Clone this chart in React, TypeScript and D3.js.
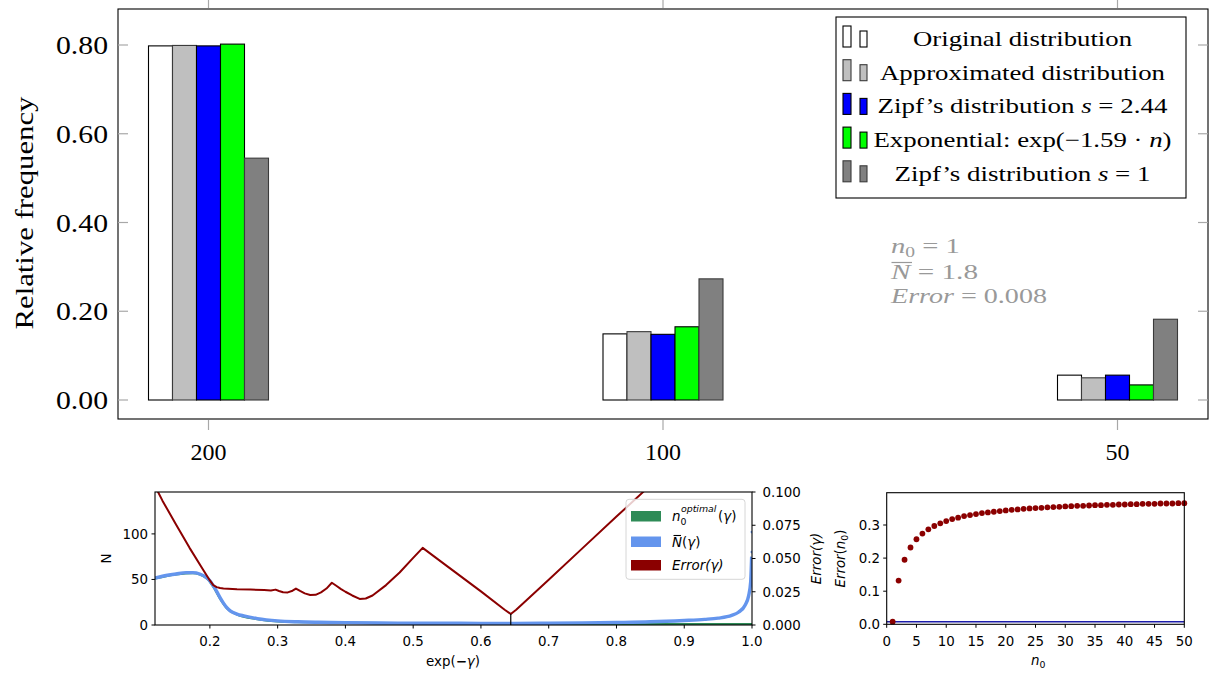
import React from 'react';
import * as d3 from 'd3';

// ---------- main bar chart data ----------
const categories = ['200', '100', '50'];
const seriesNames = ['Original distribution', 'Approximated distribution', 'Zipf2', 'Exp', 'Zipf1'];
const originalValues = [0.798, 0.149, 0.056];
const approximatedValues = [0.799, 0.154, 0.05];
const zipf244Values = [0.798, 0.148, 0.056];
const exponentialValues = [0.802, 0.165, 0.034];
const zipf1Values = [0.545, 0.273, 0.182];
const seriesColors = ['#ffffff', '#bfbfbf', '#0000ff', '#00ff00', '#808080'];
const mainYTicks = [0, 0.2, 0.4, 0.6, 0.8];

// ---------- bottom-left (gamma) data ----------
const errGammaX = [0.119, 0.13, 0.15, 0.17, 0.19, 0.2, 0.205, 0.21, 0.215, 0.22, 0.24, 0.26, 0.28, 0.29, 0.297, 0.302, 0.308, 0.315, 0.322, 0.327, 0.333, 0.34, 0.348, 0.356, 0.364, 0.372, 0.38, 0.386, 0.393, 0.4, 0.41, 0.421, 0.43, 0.44, 0.46, 0.48, 0.5, 0.514, 0.55, 0.6, 0.635, 0.644, 0.652, 0.7, 0.75, 0.8, 0.84, 0.86];
const errGammaY = [0.1045, 0.0935, 0.0755, 0.058, 0.0415, 0.0335, 0.03, 0.0285, 0.0278, 0.0274, 0.0268, 0.0266, 0.0263, 0.026, 0.0266, 0.0256, 0.0246, 0.0245, 0.0258, 0.0274, 0.0256, 0.0238, 0.0225, 0.0227, 0.0245, 0.0274, 0.0318, 0.0297, 0.0272, 0.025, 0.0222, 0.0196, 0.0199, 0.0222, 0.03, 0.0395, 0.0505, 0.058, 0.0443, 0.0253, 0.0115, 0.0083, 0.0115, 0.034, 0.0578, 0.0815, 0.1003, 0.11];
const nBarX = [0.119, 0.13, 0.15, 0.165, 0.175, 0.185, 0.195, 0.2, 0.205, 0.21, 0.215, 0.22, 0.225, 0.23, 0.24, 0.25, 0.27, 0.3, 0.33, 0.36, 0.4, 0.45, 0.5, 0.55, 0.6, 0.65, 0.7, 0.75, 0.8, 0.85, 0.9, 0.93, 0.95, 0.97, 0.98, 0.99, 0.995, 0.998, 0.9995];
const nBarY = [51.5, 53.5, 56, 57.5, 57.5, 56, 52, 48.5, 43, 37, 30, 24, 19, 15.5, 12, 10, 7, 4.5, 3.5, 3, 2.6, 2.2, 2, 1.9, 1.8, 1.8, 2, 2.3, 2.8, 3.5, 5, 6.2, 7.5, 10.5, 14, 22, 32, 47, 75];
const nBarTailX = [0.9997, 0.9998, 0.9999];
const nBarTailY = [69, 80, 102];
const nOptX = [0.119, 0.15, 0.175, 0.195, 0.205, 0.215, 0.225, 0.24, 0.27, 0.3, 0.35, 0.45, 0.6, 0.75, 0.88, 0.95, 1.0];
const nOptY = [51, 55.5, 57, 51.5, 42, 29, 18.5, 11.5, 6.5, 4, 3, 2, 1.5, 1.2, 1, 1, 1];
const gammaOptimal = 0.644;
const errorOptimal = 0.0083;
const gammaXTicks = [0.2, 0.3, 0.4, 0.5, 0.6, 0.7, 0.8, 0.9, 1.0];
const nTicks = [0, 50, 100];
const errTicks = [0, 0.025, 0.05, 0.075, 0.1];

// ---------- bottom-right (n0) data ----------
const errN0 = [0.008, 0.132, 0.195, 0.232, 0.257, 0.274, 0.287, 0.297, 0.305, 0.312, 0.318, 0.322, 0.327, 0.33, 0.333, 0.336, 0.338, 0.34, 0.342, 0.344, 0.346, 0.347, 0.349, 0.35, 0.351, 0.352, 0.353, 0.354, 0.355, 0.356, 0.357, 0.358, 0.358, 0.359, 0.36, 0.36, 0.361, 0.361, 0.362, 0.362, 0.363, 0.363, 0.364, 0.364, 0.364, 0.365, 0.365, 0.365, 0.366, 0.366];
const n0XTicks = [0, 5, 10, 15, 20, 25, 30, 35, 40, 45, 50];
const n0YTicks = [0, 0.1, 0.2, 0.3];
const bestError = 0.008;

const SERIF = "'Liberation Serif', 'Times New Roman', serif";
const SANS = "'DejaVu Sans', sans-serif";

export default function App() {
  const series = [originalValues, approximatedValues, zipf244Values, exponentialValues, zipf1Values];
  // main chart
  const L = 118, R = 1208, T = 9, B = 419;
  const x = d3.scalePoint<string>().domain(categories).range([208.5, 1117.5]);
  const y = d3.scaleLinear().domain([0, 0.8]).range([400, 45]);
  const barW = 24;
  const tickGray = '#a8a8a8';

  // legend
  const legX = 836, legY = 17, legW = 350, legH = 181;
  const rowBottoms = [47, 80.7, 114.4, 148.1, 181.8];

  // bottom-left
  const xB = d3.scaleLinear().domain([0.119, 1.0]).range([155, 752]);
  const yN = d3.scaleLinear().domain([0, 146]).range([625, 492]);
  const yE = d3.scaleLinear().domain([0, 0.1]).range([625, 492]);
  const errLine = d3.line<number>().x((_, i) => xB(errGammaX[i])).y((d) => yE(d));
  const nBarLine = d3.line<number>().x((_, i) => xB(nBarX[i])).y((d) => yN(d)).curve(d3.curveMonotoneX);
  const nOptLine = d3.line<number>().x((_, i) => xB(nOptX[i])).y((d) => yN(d)).curve(d3.curveMonotoneX);

  // bottom-right
  const xR = d3.scaleLinear().domain([0, 50]).range([886.7, 1184.3]);
  const yR = d3.scaleLinear().domain([0, 0.3976]).range([624.3, 492.7]);

  const seriesLegend = (i: number, cy: number) => {
    const common = { x: 1022.5, y: cy - 1, textAnchor: 'middle' as const, fontFamily: SERIF, fontSize: 21, lengthAdjust: 'spacingAndGlyphs' as const };
    if (i === 0) return <text {...common} textLength={219}>Original distribution</text>;
    if (i === 1) return <text {...common} textLength={285}>Approximated distribution</text>;
    if (i === 2) return <text {...common} textLength={290}>Zipf’s distribution <tspan fontStyle="italic">s</tspan> = 2.44</text>;
    if (i === 3) return <text {...common} textLength={298}>Exponential: exp(−1.59 · <tspan fontStyle="italic">n</tspan>)</text>;
    return <text {...common} textLength={256}>Zipf’s distribution <tspan fontStyle="italic">s</tspan> = 1</text>;
  };

  return (
    <svg width={1212} height={676} style={{ position: 'absolute', left: 0, top: 0, background: '#fff' }}>
      <defs>
        <clipPath id="clipB"><rect x={155} y={492} width={597} height={133} /></clipPath>
      </defs>
      <rect x={0} y={0} width={1212} height={676} fill="#fff" />

      {/* ===== main chart ===== */}
      {series.map((vals, si) =>
        categories.map((c, ci) => (
          <rect key={`b${si}-${ci}`} x={(x(c) as number) + (si - 2.5) * barW} y={y(vals[ci])} width={barW} height={400 - y(vals[ci])}
            fill={seriesColors[si]} stroke={si === 1 || si === 4 ? '#3a3a3a' : '#000'} strokeWidth={1.1} />
        ))
      )}
      <rect x={L} y={T} width={R - L} height={B - T} fill="none" stroke="#000" strokeWidth={1.1} />
      {mainYTicks.map((t) => (
        <g key={`yt${t}`}>
          <line x1={L} x2={L + 10} y1={y(t)} y2={y(t)} stroke={tickGray} strokeWidth={1.2} />
          <line x1={R - 10} x2={R} y1={y(t)} y2={y(t)} stroke={tickGray} strokeWidth={1.2} />
          <text x={108} y={y(t) + 9} textAnchor="end" fontFamily={SERIF} fontSize={26} textLength={52} lengthAdjust="spacingAndGlyphs">{t.toFixed(2)}</text>
        </g>
      ))}
      {categories.map((c) => (
        <g key={`xt${c}`}>
          <line x1={x(c)} x2={x(c)} y1={B + 1} y2={B + 11} stroke={tickGray} strokeWidth={1.2} />
          <line x1={x(c)} x2={x(c)} y1={0} y2={T - 1} stroke={tickGray} strokeWidth={1.2} />
          <text x={x(c)} y={460} textAnchor="middle" fontFamily={SERIF} fontSize={24}>{c}</text>
        </g>
      ))}
      <text transform="translate(33,213) rotate(-90)" textAnchor="middle" fontFamily={SERIF} fontSize={26} textLength={233} lengthAdjust="spacingAndGlyphs">Relative frequency</text>

      {/* legend */}
      <rect x={legX} y={legY} width={legW} height={legH} fill="#fff" stroke="#000" strokeWidth={1.1} />
      {seriesNames.map((_, i) => (
        <g key={`lg${i}`}>
          <rect x={843} y={rowBottoms[i] - 21} width={8} height={21} fill={seriesColors[i]} stroke={i === 1 || i === 4 ? '#3a3a3a' : '#000'} strokeWidth={1.1} />
          <rect x={860} y={rowBottoms[i] - 16} width={7} height={16} fill={seriesColors[i]} stroke={i === 1 || i === 4 ? '#3a3a3a' : '#000'} strokeWidth={1.1} />
          {seriesLegend(i, rowBottoms[i])}
        </g>
      ))}

      {/* annotation */}
      <g fill="#999" fontFamily={SERIF} fontSize={22}>
        <text x={891} y={253} textLength={69} lengthAdjust="spacingAndGlyphs"><tspan fontStyle="italic">n</tspan><tspan fontSize={15} dy={4}>0</tspan><tspan dy={-4}> = 1</tspan></text>
        <line x1={891.5} x2={912} y1={262.5} y2={262.5} stroke="#999" strokeWidth={1.2} />
        <text x={891} y={279} textLength={87} lengthAdjust="spacingAndGlyphs"><tspan fontStyle="italic">N</tspan> = 1.8</text>
        <text x={891} y={303} textLength={156} lengthAdjust="spacingAndGlyphs"><tspan fontStyle="italic">Error</tspan> = 0.008</text>
      </g>

      {/* ===== bottom-left chart ===== */}
      <g clipPath="url(#clipB)">
        <path d={nOptLine(nOptY) || ''} fill="none" stroke="#2e8b57" strokeWidth={2.2} />
        <path d={nBarLine(nBarY) || ''} fill="none" stroke="#6495ed" strokeWidth={3.4} strokeLinejoin="round" />
        {nBarTailY.map((v, i) => (
          <circle key={`tail${i}`} cx={xB(nBarTailX[i])} cy={yN(v)} r={1.4} fill="#6495ed" />
        ))}
        <path d={errLine(errGammaY) || ''} fill="none" stroke="#8b0000" strokeWidth={2} strokeLinejoin="round" />
        <line x1={xB(gammaOptimal)} x2={xB(gammaOptimal)} y1={yE(0)} y2={yE(errorOptimal)} stroke="#000" strokeWidth={1.2} />
      </g>
      <rect x={155} y={492} width={597} height={133} fill="none" stroke="#000" strokeWidth={1.1} />
      <g fontFamily={SANS} fontSize={13.4} fill="#000">
        {gammaXTicks.map((t) => (
          <g key={`gx${t}`}>
            <line x1={xB(t)} x2={xB(t)} y1={625} y2={628.5} stroke="#000" />
            <text x={xB(t)} y={645.5} textAnchor="middle">{t.toFixed(1)}</text>
          </g>
        ))}
        {nTicks.map((t) => (
          <g key={`nt${t}`}>
            <line x1={151.5} x2={155} y1={yN(t)} y2={yN(t)} stroke="#000" />
            <text x={148} y={yN(t) + 4.8} textAnchor="end">{t}</text>
          </g>
        ))}
        {errTicks.map((t) => (
          <g key={`et${t}`}>
            <line x1={752} x2={755.5} y1={yE(t)} y2={yE(t)} stroke="#000" />
            <text x={762.5} y={yE(t) + 4.8}>{t.toFixed(3)}</text>
          </g>
        ))}
        <text x={453} y={666} textAnchor="middle">exp(<tspan fontWeight="bold">−</tspan><tspan fontStyle="italic">γ</tspan>)</text>
        <text transform="translate(111,558.5) rotate(-90)" textAnchor="middle">N</text>
        <text transform="translate(821,558.5) rotate(-90)" textAnchor="middle" fontStyle="italic">Error(γ)</text>
      </g>
      {/* bottom-left legend */}
      <rect x={626} y={499.3} width={119} height={80} rx={3} fill="#fff" fillOpacity={0.8} stroke="#d6d6d6" strokeWidth={1} />
      <rect x={631} y={511} width={30} height={10.5} fill="#2e8b57" />
      <rect x={631} y={536.5} width={30} height={10.5} fill="#6495ed" />
      <rect x={631} y={560} width={30} height={10.5} fill="#8b0000" />
      <g fontFamily={SANS} fontSize={13.4} fill="#000">
        <text x={672} y={521} fontStyle="italic">n</text>
        <text x={680.5} y={524.5} fontSize={9.4}>0</text>
        <text x={681} y={512} fontSize={9.4} fontStyle="italic">optimal</text>
        <text x={718} y={521}>(<tspan fontStyle="italic">γ</tspan>)</text>
        <text x={672} y={546.5}><tspan fontStyle="italic">N</tspan>(<tspan fontStyle="italic">γ</tspan>)</text>
        <line x1={673.5} x2={681} y1={535.5} y2={535.5} stroke="#000" strokeWidth={1.1} />
        <text x={672} y={570} fontStyle="italic">Error(γ)</text>
      </g>

      {/* ===== bottom-right chart ===== */}
      <line x1={xR(0)} x2={xR(50)} y1={yR(bestError)} y2={yR(bestError)} stroke="#1c1caa" strokeWidth={1.5} />
      {errN0.map((v, i) => (
        <circle key={`d${i}`} cx={xR(i + 1)} cy={yR(v)} r={2.9} fill="#8b0000" />
      ))}
      <rect x={886.7} y={492.7} width={297.6} height={131.6} fill="none" stroke="#000" strokeWidth={1.1} />
      <g fontFamily={SANS} fontSize={13.4} fill="#000">
        {n0XTicks.map((t) => (
          <g key={`rx${t}`}>
            <line x1={xR(t)} x2={xR(t)} y1={624.3} y2={627.8} stroke="#000" />
            <text x={xR(t)} y={645.5} textAnchor="middle">{t}</text>
          </g>
        ))}
        {n0YTicks.map((t) => (
          <g key={`ry${t}`}>
            <line x1={883.2} x2={886.7} y1={yR(t)} y2={yR(t)} stroke="#000" />
            <text x={880} y={yR(t) + 4.8} textAnchor="end">{t.toFixed(1)}</text>
          </g>
        ))}
        <text x={1031} y={665}><tspan fontStyle="italic">n</tspan><tspan fontSize={9.4} dy={3}>0</tspan></text>
        <text transform="translate(845,558.5) rotate(-90)" textAnchor="middle"><tspan fontStyle="italic">Error</tspan>(<tspan fontStyle="italic">n</tspan><tspan fontSize={9.4} dy={3}>0</tspan><tspan dy={-3}>)</tspan></text>
      </g>
    </svg>
  );
}
